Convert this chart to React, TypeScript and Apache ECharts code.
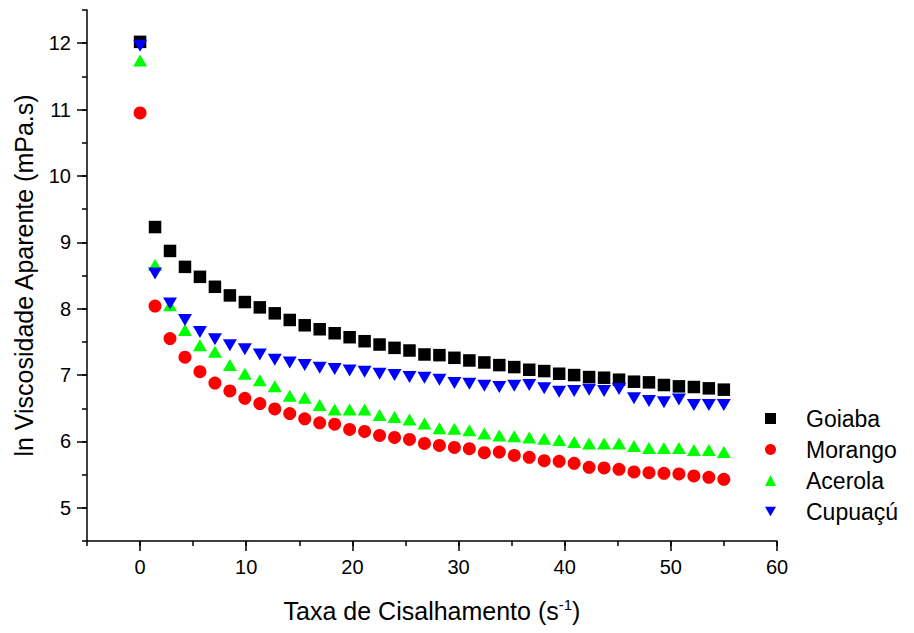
import React, { useEffect, useRef } from "react";
import * as echarts from "echarts";

// Shear rate (s^-1)
const shearRate = [
  0, 1.41, 2.82, 4.23, 5.64, 7.05, 8.46, 9.87, 11.28, 12.69,
  14.1, 15.51, 16.92, 18.33, 19.74, 21.15, 22.56, 23.97, 25.38, 26.79,
  28.2, 29.61, 31.02, 32.43, 33.84, 35.25, 36.66, 38.07, 39.48, 40.89,
  42.3, 43.71, 45.12, 46.53, 47.94, 49.35, 50.76, 52.17, 53.58, 54.99,
];

const goiaba = [
  12.02, 9.23, 8.87, 8.63, 8.48, 8.33, 8.2, 8.1, 8.02, 7.93,
  7.83, 7.75, 7.69, 7.63, 7.57, 7.51, 7.46, 7.41, 7.37, 7.31,
  7.3, 7.26, 7.22, 7.19, 7.15, 7.12, 7.08, 7.06, 7.02, 7.0,
  6.97, 6.96, 6.93, 6.9, 6.89, 6.85, 6.83, 6.82, 6.8, 6.78,
];

const morango = [
  10.95, 8.04, 7.55, 7.27, 7.05, 6.88, 6.76, 6.65, 6.57, 6.49,
  6.42, 6.34, 6.28, 6.26, 6.18, 6.15, 6.09, 6.06, 6.03, 5.97,
  5.94, 5.91, 5.89, 5.83, 5.84, 5.79, 5.76, 5.71, 5.7, 5.67,
  5.61, 5.6, 5.58, 5.54, 5.53, 5.52, 5.51, 5.48, 5.46, 5.43,
];

const acerola = [
  11.74, 8.66, 8.05, 7.68, 7.45, 7.35, 7.15, 7.02, 6.92, 6.83,
  6.69, 6.66, 6.55, 6.48, 6.48, 6.48, 6.4, 6.37, 6.33, 6.27,
  6.2, 6.19, 6.17, 6.12, 6.09, 6.08, 6.06, 6.04, 6.02, 5.99,
  5.97, 5.97, 5.97, 5.93, 5.9, 5.9, 5.9, 5.87, 5.87, 5.84,
];

const cupuacu = [
  11.96, 8.53, 8.08, 7.83, 7.65, 7.54, 7.45, 7.39, 7.31, 7.23,
  7.19, 7.15, 7.11, 7.09, 7.07, 7.05, 7.02, 7.0, 6.97, 6.96,
  6.93, 6.88, 6.87, 6.84, 6.82, 6.84, 6.85, 6.8, 6.75, 6.76,
  6.78, 6.76, 6.79, 6.65, 6.61, 6.59, 6.63, 6.55, 6.55, 6.55,
];

const seriesNames = ["Goiaba", "Morango", "Acerola", "Cupuaçú"];
const xMajorTicks = [0, 10, 20, 30, 40, 50, 60];
const yMajorTicks = [5, 6, 7, 8, 9, 10, 11, 12];

const FONT = "'Liberation Sans', Arial, Helvetica, sans-serif";

const toPairs = (ys: number[]) => ys.map((y, i) => [shearRate[i], y]);

export default function App() {
  const ref = useRef<HTMLDivElement>(null);

  useEffect(() => {
    const chart = echarts.init(ref.current!, null, { renderer: "svg" });
    const axisLineStyle = { color: "#000", width: 1.5 };

    const option: any = {
      animation: false,
      backgroundColor: "#fff",
      grid: { left: 87, right: 137, top: 10, bottom: 92, containLabel: false },
      legend: {
        orient: "vertical",
        left: 765,
        top: 407,
        padding: 0,
        itemWidth: 11,
        itemHeight: 11,
        itemGap: 8,
        data: seriesNames,
        textStyle: {
          fontFamily: FONT,
          fontSize: 23,
          color: "#000",
          lineHeight: 23,
          padding: [0, 0, 0, 25],
        },
      },
      xAxis: [
        {
          type: "value",
          min: -5,
          max: 60,
          interval: 5,
          position: "bottom",
          axisLine: { show: true, onZero: false, lineStyle: axisLineStyle },
          axisTick: {
            show: true,
            inside: false,
            length: 10,
            customValues: xMajorTicks,
            lineStyle: axisLineStyle,
          },
          axisLabel: {
            customValues: xMajorTicks,
            fontFamily: FONT,
            fontSize: 20,
            color: "#000",
            margin: 16,
          },
          splitLine: { show: false },
          name: "Taxa de Cisalhamento (s{sup|-1})",
          nameLocation: "middle",
          nameGap: 56,
          nameTextStyle: {
            fontFamily: FONT,
            fontSize: 25,
            color: "#000",
            rich: {
              sup: {
                fontFamily: FONT,
                fontSize: 15,
                color: "#000",
                padding: [0, 0, 13, 0],
              },
            },
          },
        },
        {
          type: "value",
          min: -5,
          max: 60,
          interval: 5,
          position: "bottom",
          axisLine: { show: false, onZero: false },
          axisTick: { show: true, inside: false, length: 5, lineStyle: axisLineStyle },
          axisLabel: { show: false },
          splitLine: { show: false },
        },
      ],
      yAxis: [
        {
          type: "value",
          min: 4.5,
          max: 12.5,
          interval: 0.5,
          position: "left",
          axisLine: { show: true, onZero: false, lineStyle: axisLineStyle },
          axisTick: {
            show: true,
            inside: false,
            length: 10,
            customValues: yMajorTicks,
            lineStyle: axisLineStyle,
          },
          axisLabel: {
            customValues: yMajorTicks,
            fontFamily: FONT,
            fontSize: 20,
            color: "#000",
            margin: 16,
          },
          splitLine: { show: false },
          name: "ln Viscosidade Aparente (mPa.s)",
          nameLocation: "middle",
          nameGap: 51,
          nameTextStyle: { fontFamily: FONT, fontSize: 25, color: "#000" },
        },
        {
          type: "value",
          min: 4.5,
          max: 12.5,
          interval: 0.5,
          position: "left",
          axisLine: { show: false, onZero: false },
          axisTick: { show: true, inside: false, length: 5, lineStyle: axisLineStyle },
          axisLabel: { show: false },
          splitLine: { show: false },
        },
      ],
      series: [
        {
          name: seriesNames[0],
          type: "scatter",
          symbol: "rect",
          symbolSize: 12.5,
          itemStyle: { color: "#000000", opacity: 1 },
          data: toPairs(goiaba),
        },
        {
          name: seriesNames[1],
          type: "scatter",
          symbol: "circle",
          symbolSize: 13,
          itemStyle: { color: "#ff0000", opacity: 1 },
          data: toPairs(morango),
        },
        {
          name: seriesNames[2],
          type: "scatter",
          symbol: "triangle",
          symbolSize: [14, 12],
          itemStyle: { color: "#00ff00", opacity: 1 },
          data: toPairs(acerola),
        },
        {
          name: seriesNames[3],
          type: "scatter",
          symbol: "path://M0,0L14,0L7,12Z",
          symbolSize: [14, 12],
          itemStyle: { color: "#0000ff", opacity: 1 },
          data: toPairs(cupuacu),
        },
      ],
    };

    chart.setOption(option);
    return () => chart.dispose();
  }, []);

  return (
    <div
      ref={ref}
      style={{ position: "fixed", left: 0, top: 0, width: 914, height: 633 }}
    />
  );
}
